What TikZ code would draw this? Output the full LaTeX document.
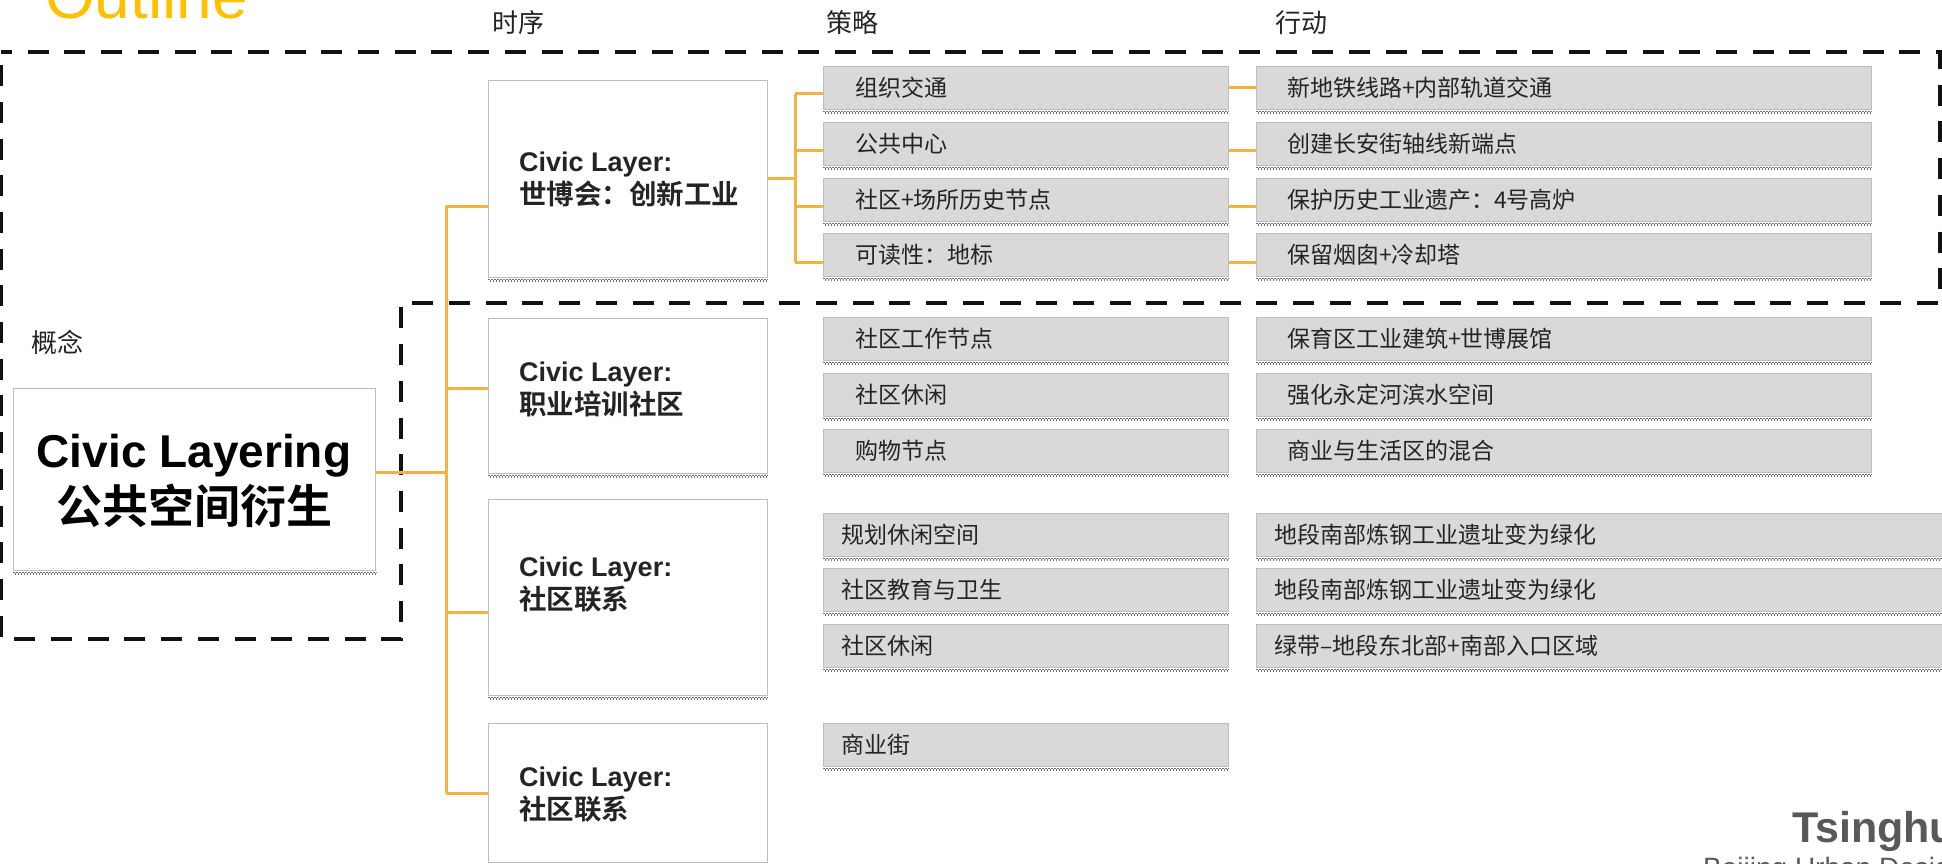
\documentclass[tikz,border=0pt]{standalone}
\usepackage{fontspec}
\setmainfont{Liberation Sans}
\newfontfamily\cjk{Noto Sans CJK SC}
\newfontfamily\cjkb{Noto Sans CJK SC Bold}
\definecolor{orangeln}{RGB}{245,178,66}
\definecolor{boxfill}{RGB}{217,217,217}
\definecolor{boxborder}{RGB}{190,190,190}
\definecolor{shadowc}{RGB}{110,110,110}
\definecolor{txt}{RGB}{36,36,36}
\definecolor{outlinec}{RGB}{255,192,0}
\definecolor{footc}{RGB}{89,89,89}
\tikzset{
  conn/.style={draw=orangeln, line width=3pt},
  region/.style={draw=black!93, line width=4.5pt, dash pattern=on 21pt off 15.7pt},
  whitebox/.style={draw=boxborder, line width=1.2pt, fill=white, inner sep=0pt, anchor=north west},
  graybox/.style={draw=boxborder, line width=1.2pt, fill=boxfill, inner sep=0pt, anchor=north west, minimum height=43pt},
  stext/.style={anchor=west, inner sep=0pt, font=\cjk\fontsize{23}{27}\selectfont, text=txt},
  head/.style={anchor=west, inner sep=0pt, font=\cjk\fontsize{26}{30}\selectfont, text=txt},
  ttl/.style={anchor=base west, inner sep=0pt, font=\bfseries\fontsize{27}{32}\selectfont, text=txt},
  ttlc/.style={anchor=base west, inner sep=0pt, font=\cjkb\fontsize{27.5}{32}\selectfont, text=txt},
  shadA/.style={draw=shadowc, line width=1.5pt, dash pattern=on 1.5pt off 1.5pt},
  shadB/.style={draw=shadowc, line width=1.5pt, dash pattern=on 1.5pt off 1.5pt, dash phase=1.5pt},
}
\begin{document}
\begin{tikzpicture}[x=1pt,y=-1pt]
\useasboundingbox (0,0) rectangle (1942,864);
\clip (0,0) rectangle (1942,864);

% headline and column heads
\node[anchor=base west, inner sep=0pt, font=\fontsize{64}{70}\selectfont, text=outlinec] (outline) at (45,19) {Outline};
\node[head] (h1) at (492,22.5) {时序};
\node[head] (h2) at (826,22.5) {策略};
\node[head] (h3) at (1275,22.5) {行动};
\node[head] (h0) at (31,342.5) {概念};

% dashed region
\draw[region, dash phase=10pt] (1,52) -- (1940,52) -- (1940,303) -- (401,303) -- (401,639) -- (1,639) -- cycle;

% coordinates for connectors
\coordinate (tk0) at (446,472);
\coordinate (tkA) at (446,206);
\coordinate (tkB) at (446,388);
\coordinate (tkC) at (446,612);
\coordinate (tkD) at (446,793);
\coordinate (st0) at (795,178);
\coordinate (st1) at (795,94);
\coordinate (st2) at (795,150);
\coordinate (st3) at (795,206);
\coordinate (st4) at (795,262);
\coordinate (r1) at (0,88);
\coordinate (r2) at (0,150);
\coordinate (r3) at (0,206);
\coordinate (r4) at (0,262);

% boxes
\node[whitebox, minimum width=362pt, minimum height=182pt] (concept) at (13,388) {};
\node[whitebox, minimum width=279pt, minimum height=197pt] (tb1) at (488,80) {};
\node[whitebox, minimum width=279pt, minimum height=155pt] (tb2) at (488,318) {};
\node[whitebox, minimum width=279pt, minimum height=196pt] (tb3) at (488,499) {};
\node[whitebox, minimum width=279pt, minimum height=139pt] (tb4) at (488,723) {};

\foreach \n/\y in {s11/66, s12/122, s13/178, s14/233, s21/317, s22/373, s23/429, s31/513, s32/568, s33/624, s41/723}
  \node[graybox, minimum width=405pt] (\n) at (823,\y) {};
\foreach \n/\y in {a11/66, a12/122, a13/178, a14/233, a21/317, a22/373, a23/429}
  \node[graybox, minimum width=615pt] (\n) at (1256,\y) {};
\foreach \n/\y in {a31/513, a32/568, a33/624}
  \node[graybox, minimum width=686pt] (\n) at (1256,\y) {};

% bottom shadows
\foreach \n in {concept, tb1, tb2, tb3, tb4, s11, s12, s13, s14, s21, s22, s23, s31, s32, s33, s41, a11, a12, a13, a14, a21, a22, a23, a31, a32, a33} {
  \draw[shadA] ([yshift=-1.4pt]\n.south west) -- ([yshift=-1.4pt]\n.south east);
  \draw[shadB] ([yshift=-2.9pt]\n.south west) -- ([yshift=-2.9pt]\n.south east);
}

% connectors
\draw[conn] (concept.east |- tk0) -- (tk0);
\draw[conn] (tkA) -- (tkD);
\draw[conn] (tkA) -- (tb1.west |- tkA);
\draw[conn] (tkB) -- (tb2.west |- tkB);
\draw[conn] (tkC) -- (tb3.west |- tkC);
\draw[conn] (tkD) -- (tb4.west |- tkD);
\draw[conn] (tb1.east |- st0) -- (st0);
\draw[conn] (st1) -- (st4);
\draw[conn] (st1) -- (s11.west |- st1);
\draw[conn] (st2) -- (s12.west |- st2);
\draw[conn] (st3) -- (s13.west |- st3);
\draw[conn] (st4) -- (s14.west |- st4);
\draw[conn] (s11.east |- r1) -- (a11.west |- r1);
\draw[conn] (s12.east |- r2) -- (a12.west |- r2);
\draw[conn] (s13.east |- r3) -- (a13.west |- r3);
\draw[conn] (s14.east |- r4) -- (a14.west |- r4);

% concept text
\node[anchor=base, inner sep=0pt, font=\bfseries\fontsize{46}{50}\selectfont, text=black] (c1) at (194,467) {Civic Layering};
\node[anchor=base, inner sep=0pt, font=\cjkb\fontsize{46}{50}\selectfont, text=black] (c2) at (194,523) {公共空间衍生};

% title texts
\node[ttl] (t1a) at (519,171) {Civic Layer:};
\node[ttlc] (t1b) at (519,204) {世博会：创新工业};
\node[ttl] (t2a) at (519,381) {Civic Layer:};
\node[ttlc] (t2b) at (519,414) {职业培训社区};
\node[ttl] (t3a) at (519,576) {Civic Layer:};
\node[ttlc] (t3b) at (519,609) {社区联系};
\node[ttl] (t4a) at (519,786) {Civic Layer:};
\node[ttlc] (t4b) at (519,819) {社区联系};

% strategy texts
\node[stext] (s11t) at ([xshift=32pt]s11.west) {组织交通};
\node[stext] (s12t) at ([xshift=32pt]s12.west) {公共中心};
\node[stext] (s13t) at ([xshift=32pt]s13.west) {社区+场所历史节点};
\node[stext] (s14t) at ([xshift=32pt]s14.west) {可读性：地标};
\node[stext] (s21t) at ([xshift=32pt]s21.west) {社区工作节点};
\node[stext] (s22t) at ([xshift=32pt]s22.west) {社区休闲};
\node[stext] (s23t) at ([xshift=32pt]s23.west) {购物节点};
\node[stext] (s31t) at ([xshift=18pt]s31.west) {规划休闲空间};
\node[stext] (s32t) at ([xshift=18pt]s32.west) {社区教育与卫生};
\node[stext] (s33t) at ([xshift=18pt]s33.west) {社区休闲};
\node[stext] (s41t) at ([xshift=18pt]s41.west) {商业街};

% action texts
\node[stext] (a11t) at ([xshift=31pt]a11.west) {新地铁线路+内部轨道交通};
\node[stext] (a12t) at ([xshift=31pt]a12.west) {创建长安街轴线新端点};
\node[stext] (a13t) at ([xshift=31pt]a13.west) {保护历史工业遗产：4号高炉};
\node[stext] (a14t) at ([xshift=31pt]a14.west) {保留烟囱+冷却塔};
\node[stext] (a21t) at ([xshift=31pt]a21.west) {保育区工业建筑+世博展馆};
\node[stext] (a22t) at ([xshift=31pt]a22.west) {强化永定河滨水空间};
\node[stext] (a23t) at ([xshift=31pt]a23.west) {商业与生活区的混合};
\node[stext] (a31t) at ([xshift=18pt]a31.west) {地段南部炼钢工业遗址变为绿化};
\node[stext] (a32t) at ([xshift=18pt]a32.west) {地段南部炼钢工业遗址变为绿化};
\node[stext] (a33t) at ([xshift=18pt]a33.west) {绿带–地段东北部+南部入口区域};

% footer
\node[anchor=base west, inner sep=0pt, font=\bfseries\fontsize{43}{48}\selectfont, text=footc] (foot1) at (1792,842) {Tsinghu};
\node[anchor=base west, inner sep=0pt, font=\fontsize{28}{32}\selectfont, text=footc] (foot2) at (1703,877) {Beijing Urban Desig};
\end{tikzpicture}
\end{document}
